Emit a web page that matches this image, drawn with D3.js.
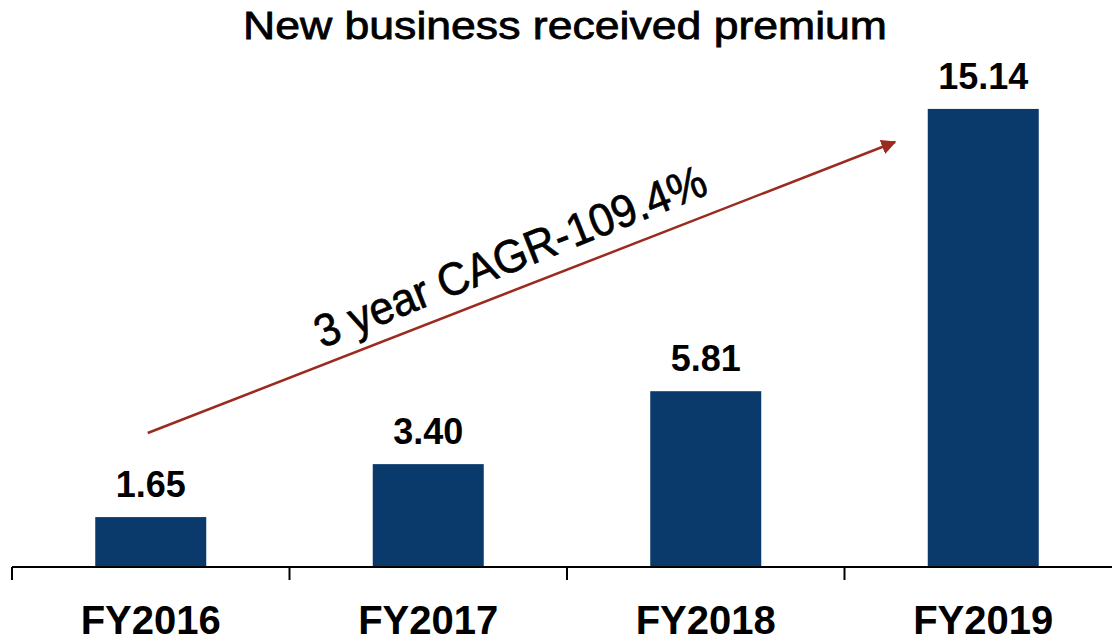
<!DOCTYPE html>
<html><head><meta charset="utf-8">
<script src="https://cdn.jsdelivr.net/npm/d3@7"></script>
<style>body{margin:0;background:#fff}svg{display:block}</style>
</head><body>
<svg id="c" width="1112" height="641"></svg>
<script>
const categories = ["FY2016","FY2017","FY2018","FY2019"];
const values = [1.65, 3.40, 5.81, 15.14];
const valueLabels = ["1.65","3.40","5.81","15.14"];
const title = "New business received premium";
const annotation = "3 year CAGR-109.4%";

const svg = d3.select("#c");
const font = "'Liberation Sans', Arial, sans-serif";
const x = d3.scaleBand().domain(categories).range([12, 1122]).paddingInner(0.6).paddingOuter(0.3);
const y = d3.scaleLinear().domain([0, 18.74]).range([567, 0]);

svg.append("text").attr("x", 565).attr("y", 39).attr("text-anchor","middle")
  .attr("font-family", font).attr("font-size", 39)
  .attr("textLength",644).attr("lengthAdjust","spacingAndGlyphs")
  .attr("fill","#000").attr("stroke","#000").attr("stroke-width",0.8).text(title);

svg.selectAll("rect.bar").data(values).join("rect").attr("class","bar")
  .attr("x",(d,i)=>x(categories[i])).attr("width",x.bandwidth())
  .attr("y",d=>y(d)).attr("height",d=>y(0)-y(d))
  .attr("fill","#0a3a6b");

svg.selectAll("text.val").data(values).join("text").attr("class","val")
  .attr("x",(d,i)=>x(categories[i])+x.bandwidth()/2).attr("y",d=>y(d)-20)
  .attr("text-anchor","middle").attr("font-family",font).attr("font-weight","bold")
  .attr("font-size",36).text((d,i)=>valueLabels[i]);

// axis
const step = x.step();
const ax = svg.append("g");
ax.append("line").attr("x1",12).attr("x2",1112).attr("y1",567).attr("y2",567).attr("stroke","#000").attr("stroke-width",2);
categories.forEach((c,i)=>{
  const tx = x(c) - (step - x.bandwidth())/2;
  ax.append("line").attr("x1",tx).attr("x2",tx).attr("y1",567).attr("y2",580).attr("stroke","#000").attr("stroke-width",2);
  ax.append("text").attr("x",x(c)+x.bandwidth()/2).attr("y",634).attr("text-anchor","middle")
    .attr("font-family",font).attr("font-weight","bold").attr("font-size",40).text(c);
});

// arrow
const defs = svg.append("defs");
defs.append("marker").attr("id","ah").attr("viewBox","0 0 10 10").attr("refX",9).attr("refY",5)
  .attr("markerWidth",6).attr("markerHeight",6).attr("markerUnits","strokeWidth").attr("orient","auto")
  .append("path").attr("d","M0,0 L10,5 L0,10 z").attr("fill","#9b2a1f");
const x0 = x(categories[0]) + x.bandwidth()/2 - 3, y0 = 433;
const x1 = 895, y1 = 142;
svg.append("line").attr("x1",x0).attr("y1",y0).attr("x2",x1).attr("y2",y1)
  .attr("stroke","#9b2a1f").attr("stroke-width",2.5).attr("marker-end","url(#ah)");
const ang = Math.atan2(y1-y0, x1-x0)*180/Math.PI - 0.5;
svg.append("text").attr("transform",`translate(516,271) rotate(${ang})`)
  .attr("text-anchor","middle").attr("font-family",font)
  .attr("font-size",46).attr("textLength",418).attr("lengthAdjust","spacingAndGlyphs")
  .attr("stroke","#000").attr("stroke-width",0.7)
  .text(annotation);
</script>
</body></html>
